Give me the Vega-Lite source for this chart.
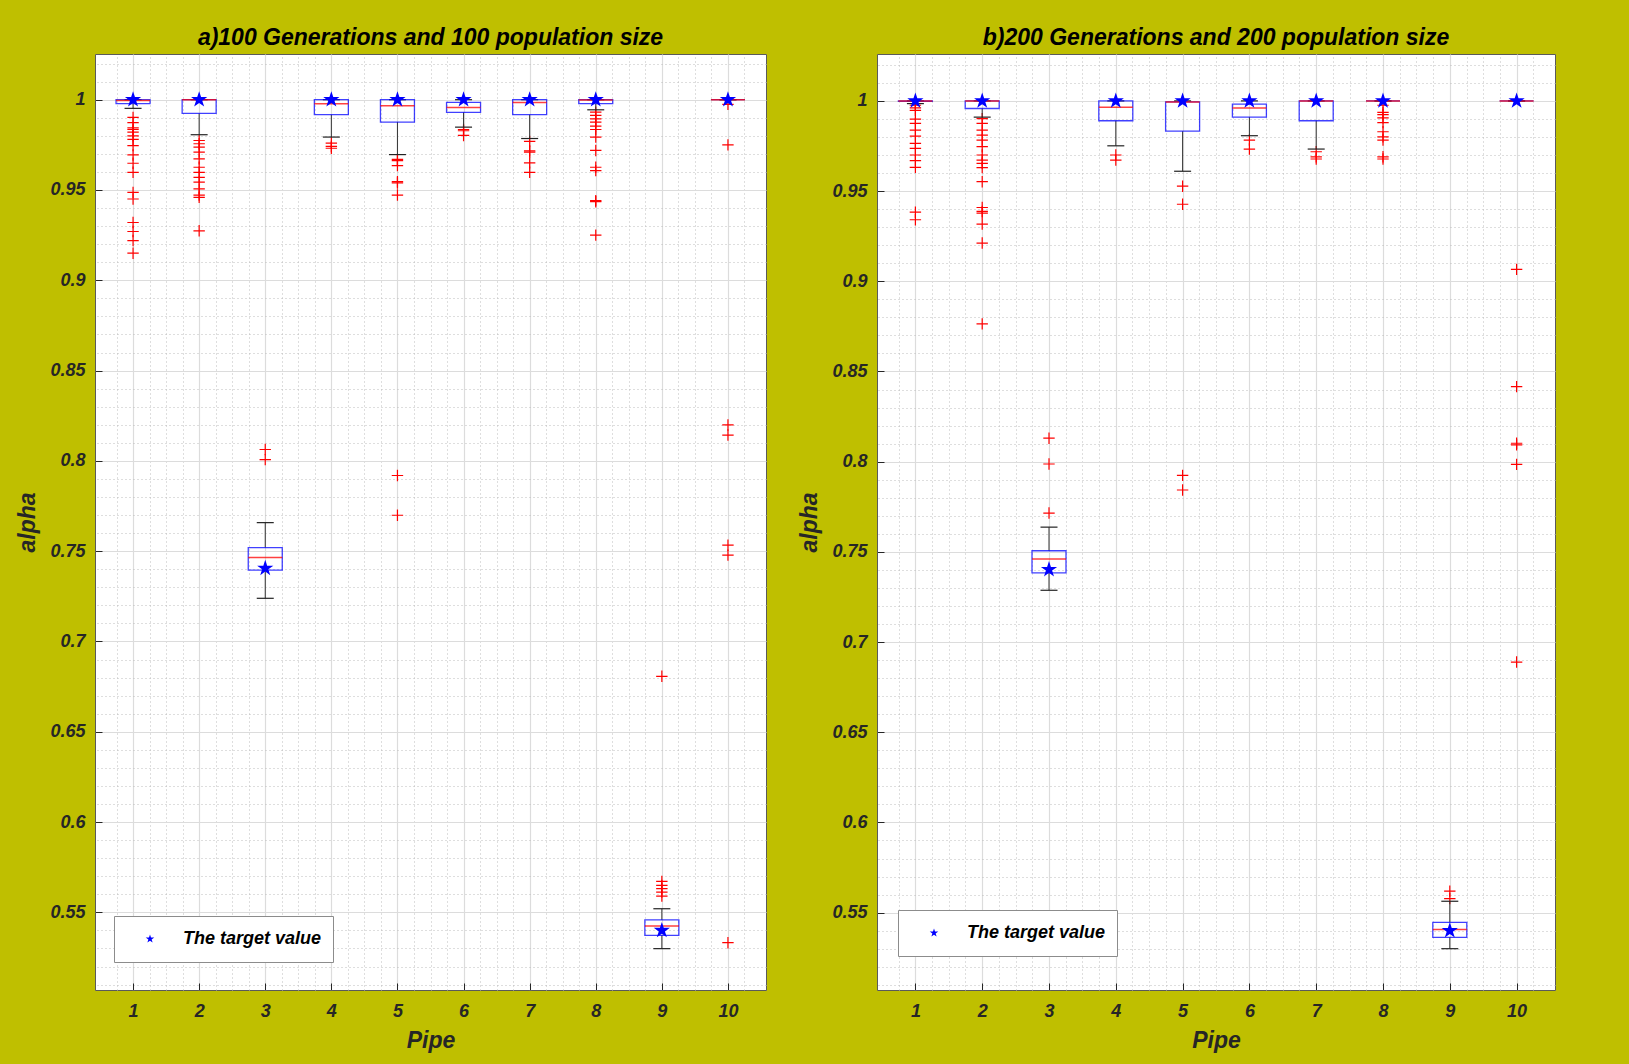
{
  "$schema": "https://vega.github.io/schema/vega-lite/v6.json",
  "background": "#BFBF00",
  "padding": {"left": 16, "top": 26, "right": 79, "bottom": 14},
  "spacing": 31,
  "config": {
    "font": "Liberation Sans",
    "view": {"stroke": "#5A5A5A", "strokeWidth": 1, "fill": "#FFFFFF"},
    "axis": {
      "labelFont": "Liberation Sans", "labelFontStyle": "italic", "labelFontWeight": "bold", "labelFontSize": 18, "labelColor": "#262626",
      "titleFont": "Liberation Sans", "titleFontStyle": "italic", "titleFontWeight": "bold", "titleFontSize": 23, "titleColor": "#262626",
      "domain": false, "tickColor": "#262626"
    },
    "title": {"font": "Liberation Sans", "fontStyle": "italic", "fontWeight": "bold", "fontSize": 23, "color": "#000000", "offset": 4},
    "legend": {"labelFont": "Liberation Sans", "labelFontStyle": "italic", "labelFontWeight": "bold", "labelFontSize": 18, "labelColor": "#000000"}
  },
  "datasets": {
    "boxA": [
      {"pipe": 1, "q1": 0.9978, "q3": 1.0, "med": 0.9995, "lo": 0.9952, "hi": 1.0},
      {"pipe": 2, "q1": 0.9924, "q3": 1.0, "med": 1.0, "lo": 0.9806, "hi": 1.0},
      {"pipe": 3, "q1": 0.7395, "q3": 0.752, "med": 0.7465, "lo": 0.7239, "hi": 0.7658},
      {"pipe": 4, "q1": 0.9917, "q3": 1.0, "med": 0.9978, "lo": 0.9793, "hi": 1.0},
      {"pipe": 5, "q1": 0.9876, "q3": 1.0, "med": 0.9967, "lo": 0.9696, "hi": 1.0},
      {"pipe": 6, "q1": 0.993, "q3": 0.9985, "med": 0.9957, "lo": 0.9848, "hi": 1.0},
      {"pipe": 7, "q1": 0.9917, "q3": 1.0, "med": 0.9985, "lo": 0.9785, "hi": 1.0},
      {"pipe": 8, "q1": 0.9978, "q3": 1.0, "med": 0.9998, "lo": 0.9944, "hi": 1.0},
      {"pipe": 9, "q1": 0.5373, "q3": 0.5458, "med": 0.5424, "lo": 0.5299, "hi": 0.552},
      {"pipe": 10, "q1": 1.0, "q3": 1.0, "med": 1.0, "lo": 1.0, "hi": 1.0}
    ],
    "outA": [
      {"pipe": 1, "alpha": 0.9902}, {"pipe": 1, "alpha": 0.9873}, {"pipe": 1, "alpha": 0.9844}, {"pipe": 1, "alpha": 0.9835}, {"pipe": 1, "alpha": 0.982}, {"pipe": 1, "alpha": 0.98}, {"pipe": 1, "alpha": 0.978}, {"pipe": 1, "alpha": 0.9746}, {"pipe": 1, "alpha": 0.9694}, {"pipe": 1, "alpha": 0.9648}, {"pipe": 1, "alpha": 0.9598}, {"pipe": 1, "alpha": 0.9487}, {"pipe": 1, "alpha": 0.945}, {"pipe": 1, "alpha": 0.932}, {"pipe": 1, "alpha": 0.927}, {"pipe": 1, "alpha": 0.922}, {"pipe": 1, "alpha": 0.915},
      {"pipe": 2, "alpha": 0.9774}, {"pipe": 2, "alpha": 0.9756}, {"pipe": 2, "alpha": 0.9737}, {"pipe": 2, "alpha": 0.971}, {"pipe": 2, "alpha": 0.9672}, {"pipe": 2, "alpha": 0.9626}, {"pipe": 2, "alpha": 0.9598}, {"pipe": 2, "alpha": 0.957}, {"pipe": 2, "alpha": 0.9543}, {"pipe": 2, "alpha": 0.9506}, {"pipe": 2, "alpha": 0.9472}, {"pipe": 2, "alpha": 0.9459}, {"pipe": 2, "alpha": 0.9274},
      {"pipe": 3, "alpha": 0.8063}, {"pipe": 3, "alpha": 0.8007},
      {"pipe": 4, "alpha": 0.976}, {"pipe": 4, "alpha": 0.9741}, {"pipe": 4, "alpha": 0.9731},
      {"pipe": 5, "alpha": 0.9669}, {"pipe": 5, "alpha": 0.9663}, {"pipe": 5, "alpha": 0.9635}, {"pipe": 5, "alpha": 0.9546}, {"pipe": 5, "alpha": 0.9539}, {"pipe": 5, "alpha": 0.9472}, {"pipe": 5, "alpha": 0.7919}, {"pipe": 5, "alpha": 0.7699},
      {"pipe": 6, "alpha": 0.9835}, {"pipe": 6, "alpha": 0.9828}, {"pipe": 6, "alpha": 0.9802},
      {"pipe": 7, "alpha": 0.9769}, {"pipe": 7, "alpha": 0.9717}, {"pipe": 7, "alpha": 0.971}, {"pipe": 7, "alpha": 0.965}, {"pipe": 7, "alpha": 0.9598},
      {"pipe": 8, "alpha": 0.9931}, {"pipe": 8, "alpha": 0.9913}, {"pipe": 8, "alpha": 0.9894}, {"pipe": 8, "alpha": 0.9876}, {"pipe": 8, "alpha": 0.9854}, {"pipe": 8, "alpha": 0.9835}, {"pipe": 8, "alpha": 0.9793}, {"pipe": 8, "alpha": 0.9719}, {"pipe": 8, "alpha": 0.9626}, {"pipe": 8, "alpha": 0.9607}, {"pipe": 8, "alpha": 0.9441}, {"pipe": 8, "alpha": 0.9435}, {"pipe": 8, "alpha": 0.925},
      {"pipe": 9, "alpha": 0.6807}, {"pipe": 9, "alpha": 0.5671}, {"pipe": 9, "alpha": 0.5649}, {"pipe": 9, "alpha": 0.5631}, {"pipe": 9, "alpha": 0.5612}, {"pipe": 9, "alpha": 0.559},
      {"pipe": 10, "alpha": 0.9974}, {"pipe": 10, "alpha": 0.975}, {"pipe": 10, "alpha": 0.8199}, {"pipe": 10, "alpha": 0.8143}, {"pipe": 10, "alpha": 0.7533}, {"pipe": 10, "alpha": 0.7478}, {"pipe": 10, "alpha": 0.5332}
    ],
    "targetA": [
      {"pipe": 1, "alpha": 1.0}, {"pipe": 2, "alpha": 1.0}, {"pipe": 3, "alpha": 0.7405}, {"pipe": 4, "alpha": 1.0}, {"pipe": 5, "alpha": 1.0},
      {"pipe": 6, "alpha": 1.0}, {"pipe": 7, "alpha": 1.0}, {"pipe": 8, "alpha": 1.0}, {"pipe": 9, "alpha": 0.54}, {"pipe": 10, "alpha": 1.0}
    ],
    "boxB": [
      {"pipe": 1, "q1": 0.9998, "q3": 1.0, "med": 1.0, "lo": 0.9985, "hi": 1.0},
      {"pipe": 2, "q1": 0.9958, "q3": 1.0, "med": 1.0, "lo": 0.991, "hi": 1.0},
      {"pipe": 3, "q1": 0.7383, "q3": 0.7506, "med": 0.746, "lo": 0.7287, "hi": 0.7637},
      {"pipe": 4, "q1": 0.989, "q3": 1.0, "med": 0.9965, "lo": 0.9751, "hi": 1.0},
      {"pipe": 5, "q1": 0.9832, "q3": 0.9995, "med": 0.9994, "lo": 0.961, "hi": 1.0},
      {"pipe": 6, "q1": 0.991, "q3": 0.9982, "med": 0.996, "lo": 0.9807, "hi": 1.0},
      {"pipe": 7, "q1": 0.989, "q3": 1.0, "med": 1.0, "lo": 0.9733, "hi": 1.0},
      {"pipe": 8, "q1": 1.0, "q3": 1.0, "med": 1.0, "lo": 1.0, "hi": 1.0},
      {"pipe": 9, "q1": 0.5363, "q3": 0.5446, "med": 0.5406, "lo": 0.53, "hi": 0.5563},
      {"pipe": 10, "q1": 1.0, "q3": 1.0, "med": 1.0, "lo": 1.0, "hi": 1.0}
    ],
    "outB": [
      {"pipe": 1, "alpha": 0.9976}, {"pipe": 1, "alpha": 0.9961}, {"pipe": 1, "alpha": 0.9948}, {"pipe": 1, "alpha": 0.9899}, {"pipe": 1, "alpha": 0.9875}, {"pipe": 1, "alpha": 0.9838}, {"pipe": 1, "alpha": 0.9805}, {"pipe": 1, "alpha": 0.9764}, {"pipe": 1, "alpha": 0.9737}, {"pipe": 1, "alpha": 0.97}, {"pipe": 1, "alpha": 0.9669}, {"pipe": 1, "alpha": 0.9632}, {"pipe": 1, "alpha": 0.9383}, {"pipe": 1, "alpha": 0.9341},
      {"pipe": 2, "alpha": 0.9902}, {"pipe": 2, "alpha": 0.9875}, {"pipe": 2, "alpha": 0.9838}, {"pipe": 2, "alpha": 0.981}, {"pipe": 2, "alpha": 0.9783}, {"pipe": 2, "alpha": 0.9746}, {"pipe": 2, "alpha": 0.97}, {"pipe": 2, "alpha": 0.9672}, {"pipe": 2, "alpha": 0.9654}, {"pipe": 2, "alpha": 0.963}, {"pipe": 2, "alpha": 0.9552}, {"pipe": 2, "alpha": 0.9409}, {"pipe": 2, "alpha": 0.9387}, {"pipe": 2, "alpha": 0.9378}, {"pipe": 2, "alpha": 0.9317}, {"pipe": 2, "alpha": 0.9212}, {"pipe": 2, "alpha": 0.8764},
      {"pipe": 3, "alpha": 0.813}, {"pipe": 3, "alpha": 0.7987}, {"pipe": 3, "alpha": 0.7715},
      {"pipe": 4, "alpha": 0.97}, {"pipe": 4, "alpha": 0.9672},
      {"pipe": 5, "alpha": 0.9527}, {"pipe": 5, "alpha": 0.9427}, {"pipe": 5, "alpha": 0.7924}, {"pipe": 5, "alpha": 0.7843},
      {"pipe": 6, "alpha": 0.9783}, {"pipe": 6, "alpha": 0.9733},
      {"pipe": 7, "alpha": 0.9718}, {"pipe": 7, "alpha": 0.969}, {"pipe": 7, "alpha": 0.9678},
      {"pipe": 8, "alpha": 0.9976}, {"pipe": 8, "alpha": 0.9936}, {"pipe": 8, "alpha": 0.9924}, {"pipe": 8, "alpha": 0.9906}, {"pipe": 8, "alpha": 0.988}, {"pipe": 8, "alpha": 0.9829}, {"pipe": 8, "alpha": 0.9801}, {"pipe": 8, "alpha": 0.9783}, {"pipe": 8, "alpha": 0.969}, {"pipe": 8, "alpha": 0.9678},
      {"pipe": 9, "alpha": 0.5619}, {"pipe": 9, "alpha": 0.5578},
      {"pipe": 10, "alpha": 0.9066}, {"pipe": 10, "alpha": 0.8416}, {"pipe": 10, "alpha": 0.8102}, {"pipe": 10, "alpha": 0.8093}, {"pipe": 10, "alpha": 0.7985}, {"pipe": 10, "alpha": 0.6889}
    ],
    "targetB": [
      {"pipe": 1, "alpha": 1.0}, {"pipe": 2, "alpha": 1.0}, {"pipe": 3, "alpha": 0.7402}, {"pipe": 4, "alpha": 1.0}, {"pipe": 5, "alpha": 1.0},
      {"pipe": 6, "alpha": 1.0}, {"pipe": 7, "alpha": 1.0}, {"pipe": 8, "alpha": 1.0}, {"pipe": 9, "alpha": 0.54}, {"pipe": 10, "alpha": 1.0}
    ]
  },
  "resolve": {"scale": {"color": "independent"}, "legend": {"color": "independent"}},
  "hconcat": [
    {
      "width": 671, "height": 936,
      "title": {"text": "a)100 Generations and 100 population size"},
      "resolve": {"axis": {"x": "independent", "y": "independent"}},
      "layer": [
        {
          "data": {"name": "outA"},
          "mark": {"type": "point", "shape": "M-1,0L1,0M0,-1L0,1", "filled": false, "color": "#FF0000", "size": 130, "strokeWidth": 1.2, "opacity": 1},
          "encoding": {
            "x": {"field": "pipe", "type": "quantitative", "scale": {"domain": [0.5, 10.5], "nice": false, "zero": false},
              "axis": {"orient": "top", "values": [0.75,1.25,1.5,1.75,2.25,2.5,2.75,3.25,3.5,3.75,4.25,4.5,4.75,5.25,5.5,5.75,6.25,6.5,6.75,7.25,7.5,7.75,8.25,8.5,8.75,9.25,9.5,9.75,10.25],
                "grid": true, "gridDash": [1, 3], "gridColor": "#BDBDBD", "gridWidth": 1, "labels": false, "ticks": false, "domain": false, "title": null, "minExtent": 0, "maxExtent": 0}},
            "y": {"field": "alpha", "type": "quantitative", "scale": {"domain": [0.507, 1.0253], "nice": false, "zero": false},
              "axis": {"orient": "right", "values": [0.51,0.52,0.53,0.54,0.56,0.57,0.58,0.59,0.61,0.62,0.63,0.64,0.66,0.67,0.68,0.69,0.71,0.72,0.73,0.74,0.76,0.77,0.78,0.79,0.81,0.82,0.83,0.84,0.86,0.87,0.88,0.89,0.91,0.92,0.93,0.94,0.96,0.97,0.98,0.99,1.01,1.02],
                "grid": true, "gridDash": [1, 3], "gridColor": "#BDBDBD", "gridWidth": 1, "labels": false, "ticks": false, "domain": false, "title": null, "minExtent": 0, "maxExtent": 0}}
          }
        },
        {
          "encoding": {
            "x": {"field": "pipe", "type": "quantitative", "scale": {"domain": [0.5, 10.5], "nice": false, "zero": false},
              "axis": {"orient": "bottom", "values": [1,2,3,4,5,6,7,8,9,10], "format": "d", "grid": true, "gridColor": "#DCDCDC", "gridWidth": 1.2, "tickSize": -7, "labelPadding": 19, "title": "Pipe", "titlePadding": 9}}
          },
          "layer": [
            {
              "data": {"name": "boxA"},
              "mark": {"type": "rule", "color": "#333333", "strokeWidth": 1},
              "encoding": {
                "y": {"field": "lo", "type": "quantitative", "scale": {"domain": [0.507, 1.0253], "nice": false, "zero": false},
                  "axis": {"orient": "left", "values": [0.55,0.6,0.65,0.7,0.75,0.8,0.85,0.9,0.95,1], "format": "~g", "grid": true, "gridColor": "#DCDCDC", "gridWidth": 1.2, "tickSize": -7, "labelPadding": 17, "title": "alpha", "titlePadding": 10}},
                "y2": {"field": "q1"}
              }
            },
            {
              "data": {"name": "boxA"},
              "mark": {"type": "rule", "color": "#333333", "strokeWidth": 1},
              "encoding": {
                "y": {"field": "q3", "type": "quantitative", "scale": {"domain": [0.507, 1.0253], "nice": false, "zero": false},
                  "axis": {"orient": "left", "values": [0.55,0.6,0.65,0.7,0.75,0.8,0.85,0.9,0.95,1], "format": "~g", "grid": true, "gridColor": "#DCDCDC", "gridWidth": 1.2, "tickSize": -7, "labelPadding": 17, "title": "alpha", "titlePadding": 10}},
                "y2": {"field": "hi"}
              }
            },
            {
              "data": {"name": "boxA"},
              "mark": {"type": "tick", "orient": "horizontal", "size": 17, "thickness": 1.2, "color": "#222222", "opacity": 1},
              "encoding": {"y": {"field": "lo", "type": "quantitative", "scale": {"domain": [0.507, 1.0253], "nice": false, "zero": false},
                  "axis": {"orient": "left", "values": [0.55,0.6,0.65,0.7,0.75,0.8,0.85,0.9,0.95,1], "format": "~g", "grid": true, "gridColor": "#DCDCDC", "gridWidth": 1.2, "tickSize": -7, "labelPadding": 17, "title": "alpha", "titlePadding": 10}}}
            },
            {
              "data": {"name": "boxA"},
              "mark": {"type": "tick", "orient": "horizontal", "size": 17, "thickness": 1.2, "color": "#222222", "opacity": 1},
              "encoding": {"y": {"field": "hi", "type": "quantitative", "scale": {"domain": [0.507, 1.0253], "nice": false, "zero": false},
                  "axis": {"orient": "left", "values": [0.55,0.6,0.65,0.7,0.75,0.8,0.85,0.9,0.95,1], "format": "~g", "grid": true, "gridColor": "#DCDCDC", "gridWidth": 1.2, "tickSize": -7, "labelPadding": 17, "title": "alpha", "titlePadding": 10}}}
            },
            {
              "data": {"name": "boxA"},
              "mark": {"type": "bar", "filled": false, "color": "#0000FF", "strokeWidth": 1.3, "strokeOpacity": 0.75, "size": 34},
              "encoding": {
                "y": {"field": "q3", "type": "quantitative", "scale": {"domain": [0.507, 1.0253], "nice": false, "zero": false},
                  "axis": {"orient": "left", "values": [0.55,0.6,0.65,0.7,0.75,0.8,0.85,0.9,0.95,1], "format": "~g", "grid": true, "gridColor": "#DCDCDC", "gridWidth": 1.2, "tickSize": -7, "labelPadding": 17, "title": "alpha", "titlePadding": 10}},
                "y2": {"field": "q1"}
              }
            },
            {
              "data": {"name": "boxA"},
              "mark": {"type": "tick", "orient": "horizontal", "size": 34, "thickness": 1.5, "color": "#FF0000", "opacity": 0.75},
              "encoding": {"y": {"field": "med", "type": "quantitative", "scale": {"domain": [0.507, 1.0253], "nice": false, "zero": false},
                  "axis": {"orient": "left", "values": [0.55,0.6,0.65,0.7,0.75,0.8,0.85,0.9,0.95,1], "format": "~g", "grid": true, "gridColor": "#DCDCDC", "gridWidth": 1.2, "tickSize": -7, "labelPadding": 17, "title": "alpha", "titlePadding": 10}}}
            },
            {
              "data": {"name": "targetA"},
              "mark": {"type": "point", "shape": "M0,-1L0.2245,-0.309L0.9511,-0.309L0.3633,0.118L0.5878,0.809L0,0.382L-0.5878,0.809L-0.3633,0.118L-0.9511,-0.309L-0.2245,-0.309Z", "filled": true, "size": 290, "opacity": 1},
              "encoding": {
                "y": {"field": "alpha", "type": "quantitative", "scale": {"domain": [0.507, 1.0253], "nice": false, "zero": false},
                  "axis": {"orient": "left", "values": [0.55,0.6,0.65,0.7,0.75,0.8,0.85,0.9,0.95,1], "format": "~g", "grid": true, "gridColor": "#DCDCDC", "gridWidth": 1.2, "tickSize": -7, "labelPadding": 17, "title": "alpha", "titlePadding": 10}},
                "color": {"datum": "The target value", "type": "nominal", "scale": {"range": ["#0000FF"]},
                  "legend": {"orient": "none", "legendX": 19, "legendY": 862, "title": null, "symbolType": "M0,-1L0.2245,-0.309L0.9511,-0.309L0.3633,0.118L0.5878,0.809L0,0.382L-0.5878,0.809L-0.3633,0.118L-0.9511,-0.309L-0.2245,-0.309Z", "symbolSize": 80, "padding": 11, "strokeColor": "#8C8C8C", "fillColor": "#FFFFFF", "symbolOffset": 16, "labelOffset": 24, "clipHeight": 24}}
              }
            }
          ]
        }
      ]
    },
    {
      "width": 678, "height": 936,
      "title": {"text": "b)200 Generations and 200 population size"},
      "resolve": {"axis": {"x": "independent", "y": "independent"}},
      "layer": [
        {
          "data": {"name": "outB"},
          "mark": {"type": "point", "shape": "M-1,0L1,0M0,-1L0,1", "filled": false, "color": "#FF0000", "size": 130, "strokeWidth": 1.2, "opacity": 1},
          "encoding": {
            "x": {"field": "pipe", "type": "quantitative", "scale": {"domain": [0.5, 10.5], "nice": false, "zero": false},
              "axis": {"orient": "top", "values": [0.75,1.25,1.5,1.75,2.25,2.5,2.75,3.25,3.5,3.75,4.25,4.5,4.75,5.25,5.5,5.75,6.25,6.5,6.75,7.25,7.5,7.75,8.25,8.5,8.75,9.25,9.5,9.75,10.25],
                "grid": true, "gridDash": [1, 3], "gridColor": "#BDBDBD", "gridWidth": 1, "labels": false, "ticks": false, "domain": false, "title": null, "minExtent": 0, "maxExtent": 0}},
            "y": {"field": "alpha", "type": "quantitative", "scale": {"domain": [0.5071, 1.026], "nice": false, "zero": false},
              "axis": {"orient": "right", "values": [0.51,0.52,0.53,0.54,0.56,0.57,0.58,0.59,0.61,0.62,0.63,0.64,0.66,0.67,0.68,0.69,0.71,0.72,0.73,0.74,0.76,0.77,0.78,0.79,0.81,0.82,0.83,0.84,0.86,0.87,0.88,0.89,0.91,0.92,0.93,0.94,0.96,0.97,0.98,0.99,1.01,1.02],
                "grid": true, "gridDash": [1, 3], "gridColor": "#BDBDBD", "gridWidth": 1, "labels": false, "ticks": false, "domain": false, "title": null, "minExtent": 0, "maxExtent": 0}}
          }
        },
        {
          "encoding": {
            "x": {"field": "pipe", "type": "quantitative", "scale": {"domain": [0.5, 10.5], "nice": false, "zero": false},
              "axis": {"orient": "bottom", "values": [1,2,3,4,5,6,7,8,9,10], "format": "d", "grid": true, "gridColor": "#DCDCDC", "gridWidth": 1.2, "tickSize": -7, "labelPadding": 19, "title": "Pipe", "titlePadding": 9}}
          },
          "layer": [
            {
              "data": {"name": "boxB"},
              "mark": {"type": "rule", "color": "#333333", "strokeWidth": 1},
              "encoding": {
                "y": {"field": "lo", "type": "quantitative", "scale": {"domain": [0.5071, 1.026], "nice": false, "zero": false},
                  "axis": {"orient": "left", "values": [0.55,0.6,0.65,0.7,0.75,0.8,0.85,0.9,0.95,1], "format": "~g", "grid": true, "gridColor": "#DCDCDC", "gridWidth": 1.2, "tickSize": -7, "labelPadding": 17, "title": "alpha", "titlePadding": 10}},
                "y2": {"field": "q1"}
              }
            },
            {
              "data": {"name": "boxB"},
              "mark": {"type": "rule", "color": "#333333", "strokeWidth": 1},
              "encoding": {
                "y": {"field": "q3", "type": "quantitative", "scale": {"domain": [0.5071, 1.026], "nice": false, "zero": false},
                  "axis": {"orient": "left", "values": [0.55,0.6,0.65,0.7,0.75,0.8,0.85,0.9,0.95,1], "format": "~g", "grid": true, "gridColor": "#DCDCDC", "gridWidth": 1.2, "tickSize": -7, "labelPadding": 17, "title": "alpha", "titlePadding": 10}},
                "y2": {"field": "hi"}
              }
            },
            {
              "data": {"name": "boxB"},
              "mark": {"type": "tick", "orient": "horizontal", "size": 17, "thickness": 1.2, "color": "#222222", "opacity": 1},
              "encoding": {"y": {"field": "lo", "type": "quantitative", "scale": {"domain": [0.5071, 1.026], "nice": false, "zero": false},
                  "axis": {"orient": "left", "values": [0.55,0.6,0.65,0.7,0.75,0.8,0.85,0.9,0.95,1], "format": "~g", "grid": true, "gridColor": "#DCDCDC", "gridWidth": 1.2, "tickSize": -7, "labelPadding": 17, "title": "alpha", "titlePadding": 10}}}
            },
            {
              "data": {"name": "boxB"},
              "mark": {"type": "tick", "orient": "horizontal", "size": 17, "thickness": 1.2, "color": "#222222", "opacity": 1},
              "encoding": {"y": {"field": "hi", "type": "quantitative", "scale": {"domain": [0.5071, 1.026], "nice": false, "zero": false},
                  "axis": {"orient": "left", "values": [0.55,0.6,0.65,0.7,0.75,0.8,0.85,0.9,0.95,1], "format": "~g", "grid": true, "gridColor": "#DCDCDC", "gridWidth": 1.2, "tickSize": -7, "labelPadding": 17, "title": "alpha", "titlePadding": 10}}}
            },
            {
              "data": {"name": "boxB"},
              "mark": {"type": "bar", "filled": false, "color": "#0000FF", "strokeWidth": 1.3, "strokeOpacity": 0.75, "size": 34},
              "encoding": {
                "y": {"field": "q3", "type": "quantitative", "scale": {"domain": [0.5071, 1.026], "nice": false, "zero": false},
                  "axis": {"orient": "left", "values": [0.55,0.6,0.65,0.7,0.75,0.8,0.85,0.9,0.95,1], "format": "~g", "grid": true, "gridColor": "#DCDCDC", "gridWidth": 1.2, "tickSize": -7, "labelPadding": 17, "title": "alpha", "titlePadding": 10}},
                "y2": {"field": "q1"}
              }
            },
            {
              "data": {"name": "boxB"},
              "mark": {"type": "tick", "orient": "horizontal", "size": 34, "thickness": 1.5, "color": "#FF0000", "opacity": 0.75},
              "encoding": {"y": {"field": "med", "type": "quantitative", "scale": {"domain": [0.5071, 1.026], "nice": false, "zero": false},
                  "axis": {"orient": "left", "values": [0.55,0.6,0.65,0.7,0.75,0.8,0.85,0.9,0.95,1], "format": "~g", "grid": true, "gridColor": "#DCDCDC", "gridWidth": 1.2, "tickSize": -7, "labelPadding": 17, "title": "alpha", "titlePadding": 10}}}
            },
            {
              "data": {"name": "targetB"},
              "mark": {"type": "point", "shape": "M0,-1L0.2245,-0.309L0.9511,-0.309L0.3633,0.118L0.5878,0.809L0,0.382L-0.5878,0.809L-0.3633,0.118L-0.9511,-0.309L-0.2245,-0.309Z", "filled": true, "size": 290, "opacity": 1},
              "encoding": {
                "y": {"field": "alpha", "type": "quantitative", "scale": {"domain": [0.5071, 1.026], "nice": false, "zero": false},
                  "axis": {"orient": "left", "values": [0.55,0.6,0.65,0.7,0.75,0.8,0.85,0.9,0.95,1], "format": "~g", "grid": true, "gridColor": "#DCDCDC", "gridWidth": 1.2, "tickSize": -7, "labelPadding": 17, "title": "alpha", "titlePadding": 10}},
                "color": {"datum": "The target value", "type": "nominal", "scale": {"range": ["#0000FF"]},
                  "legend": {"orient": "none", "legendX": 21, "legendY": 856, "title": null, "symbolType": "M0,-1L0.2245,-0.309L0.9511,-0.309L0.3633,0.118L0.5878,0.809L0,0.382L-0.5878,0.809L-0.3633,0.118L-0.9511,-0.309L-0.2245,-0.309Z", "symbolSize": 80, "padding": 11, "strokeColor": "#8C8C8C", "fillColor": "#FFFFFF", "symbolOffset": 16, "labelOffset": 24, "clipHeight": 24}}
              }
            }
          ]
        }
      ]
    }
  ]
}
